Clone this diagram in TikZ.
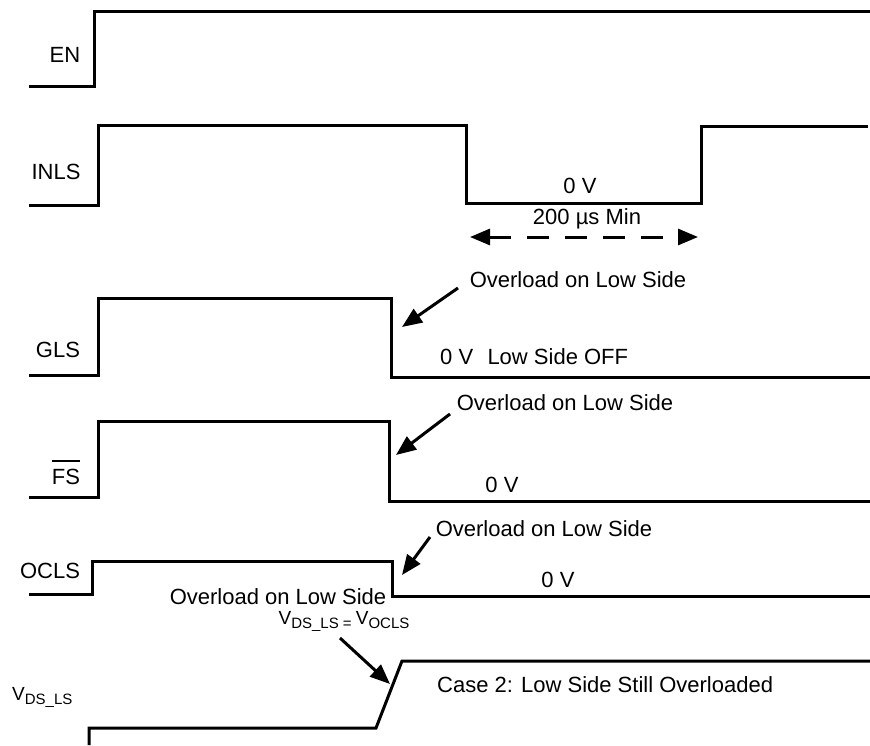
\documentclass[tikz,border=0pt]{standalone}
\usepackage{fontspec}
\setmainfont{Liberation Sans}
\usetikzlibrary{arrows.meta}
\newcommand\subtx[1]{{\fontsize{15}{15}\selectfont\raisebox{-4pt}{#1}}}
\newcommand\ovltx[1]{\leavevmode\vbox{\hrule height 1.8pt \kern 7pt \hbox{#1}}}
\begin{document}
\begin{tikzpicture}[x=1pt,y=-1pt,
  wave/.style={line width=3pt,line join=miter},
  lbl/.style={inner sep=0pt,font=\fontsize{22}{26}\selectfont},
  vlbl/.style={inner sep=0pt,font=\fontsize{19}{23}\selectfont},
  callout/.style={line width=3pt,-{Triangle[length=20pt,width=16pt]}},
  span/.style={line width=3pt,dash pattern=on 22pt off 16pt,{Triangle[length=20pt,width=16pt]}-{Triangle[length=20pt,width=16pt]}}]
\useasboundingbox (0,0) rectangle (870,745);
% waveforms
\draw[wave] (29,86) -- (94,86) -- (94,11) -- (870,11);
\draw[wave] (29,205) -- (98,205) -- (98,125) -- (466,125) -- (466,203) -- (701,203) -- (701,126) -- (868,126);
\draw[wave] (29,375) -- (98,375) -- (98,298) -- (391,298) -- (391,377) -- (870,377);
\draw[wave] (29,497) -- (98,497) -- (98,421) -- (389,421) -- (389,501) -- (870,501);
\draw[wave] (29,594) -- (92,594) -- (92,561) -- (392,561) -- (392,596) -- (870,596);
\draw[wave] (89,745) -- (89,728) -- (376,728) -- (402,661) -- (870,661);
% signal names
\node[lbl] (en) at (65,55) {EN};
\node[lbl] (inls) at (56,172) {INLS};
\node[lbl] (gls) at (58,350) {GLS};
\node[lbl,anchor=base] (fs) at (66,484) {\ovltx{FS}};
\node[lbl] (ocls) at (50,571) {OCLS};
\node[vlbl,anchor=base west] (vds) at (12,700) {V\subtx{DS\_LS}};
% annotations
\node[lbl] (zv1) at (580,186) {0 V};
\node[lbl] (tmin) at (587,219) {200 µs Min};
\coordinate (sa) at (470,237);
\coordinate (sb) at (698,237);
\draw[span] (sa) -- (sb);
\node[lbl] (ov1) at (578,280) {Overload on Low Side};
\node[lbl,anchor=west] (off) at (440,357) {0 V\hspace{0.65em}Low Side OFF};
\node[lbl] (ov2) at (565,403) {Overload on Low Side};
\node[lbl] (zv2) at (502,485) {0 V};
\node[lbl] (ov3) at (544,529) {Overload on Low Side};
\node[lbl] (zv3) at (558,580) {0 V};
\node[lbl] (ov4) at (278,597) {Overload on Low Side};
\node[vlbl] (eq) at (344,621) {V\subtx{DS\_LS = }V\subtx{OCLS}};
\node[lbl,anchor=west] (case) at (437,685) {Case 2: Low Side Still Overloaded};
% callout arrows
\coordinate (a1s) at (458,288); \coordinate (a1t) at (402,327);
\coordinate (a2s) at (450,414); \coordinate (a2t) at (396,455);
\coordinate (a3s) at (430,537); \coordinate (a3t) at (402,575);
\coordinate (a4s) at (340,638); \coordinate (a4t) at (390,684);
\draw[callout] (a1s) -- (a1t);
\draw[callout] (a2s) -- (a2t);
\draw[callout] (a3s) -- (a3t);
\draw[callout] (a4s) -- (a4t);
\end{tikzpicture}
\end{document}
